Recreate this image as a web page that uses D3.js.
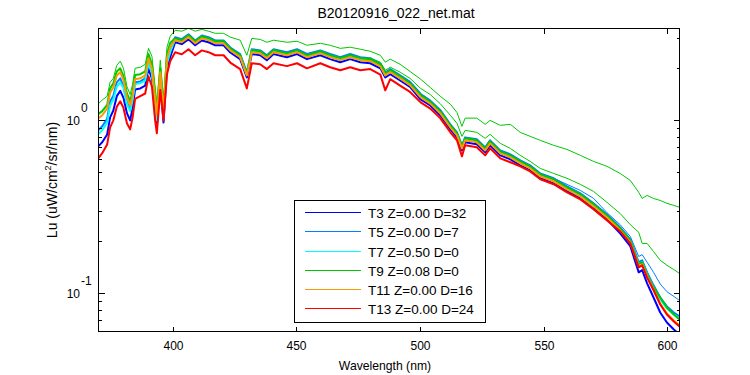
<!DOCTYPE html>
<html>
<head>
<meta charset="utf-8">
<script src="https://cdn.jsdelivr.net/npm/d3@7"></script>
<style>
	body { margin: 0; background: #fff; }
	text { font-family: "Liberation Sans", Arial, sans-serif; fill: #000; }
</style>
</head>
<body>
<svg id="svg_chart" width="750" height="375"></svg>
<script>
// wavelength grid (nm)
var wavelengths = [370, 371.5, 373.5, 374.7, 376, 377.4, 378.8, 380.1, 381.5, 382.8,
	383.8, 384.8, 386.9, 388.9, 390.2, 391.6, 392.9, 393.6, 395, 396.3,
	397.7, 399, 401, 403.7, 406.4, 409.1, 411.8, 414.5, 417.2, 420.6,
	423.3, 427.3, 430, 432, 435.4, 438.1, 440.8, 446.2, 450.3, 454.3,
	459.7, 463.7, 467.8, 471.8, 475.9, 479.9, 484, 486, 488, 492,
	496, 500.3, 504.2, 508.2, 512.3, 515, 517, 518.3, 523, 526.4,
	528.4, 532.5, 536.6, 540.6, 544.6, 548.7, 554.1, 559.5, 564.9, 570.2,
	575.7, 581, 585.1, 588.5, 589.9, 591.9, 594.5, 597.2, 599.9, 602.7,
	605];

// Lu (uW/cm2/sr/nm) per cast
var lu_T3 = [0.710, 0.747, 0.828, 1.04, 1.14, 1.38, 1.48, 1.35, 1.10, 0.999,
	1.18, 1.51, 1.53, 1.59, 2.00, 1.75, 1.17, 0.936, 1.66, 0.971,
	2.00, 2.32, 2.83, 2.76, 2.95, 2.72, 2.90, 2.83, 2.72, 2.72,
	2.47, 2.26, 1.77, 2.42, 2.38, 2.23, 2.42, 2.32, 2.42, 2.26,
	2.38, 2.26, 2.17, 2.26, 2.17, 2.14, 2.00, 1.77, 1.85, 1.70,
	1.56, 1.32, 1.22, 1.07, 0.887, 0.798, 0.670, 0.746, 0.727, 0.653,
	0.717, 0.627, 0.595, 0.549, 0.513, 0.462, 0.432, 0.389, 0.354, 0.310,
	0.267, 0.222, 0.187, 0.132, 0.136, 0.114, 0.0944, 0.0773, 0.0677, 0.0616,
	0.0577];
var lu_T5 = [0.878, 0.924, 1.02, 1.29, 1.39, 1.66, 1.75, 1.58, 1.27, 1.16,
	1.35, 1.66, 1.68, 1.75, 2.20, 1.92, 1.29, 1.03, 1.83, 1.07,
	2.20, 2.55, 3.03, 2.95, 3.15, 2.90, 3.10, 3.03, 2.90, 2.90,
	2.64, 2.42, 1.89, 2.58, 2.54, 2.38, 2.58, 2.48, 2.58, 2.42,
	2.54, 2.42, 2.32, 2.42, 2.32, 2.29, 2.13, 1.89, 1.98, 1.82,
	1.67, 1.42, 1.30, 1.15, 0.948, 0.853, 0.716, 0.797, 0.777, 0.697,
	0.766, 0.670, 0.636, 0.587, 0.549, 0.493, 0.462, 0.415, 0.378, 0.331,
	0.285, 0.240, 0.205, 0.151, 0.155, 0.132, 0.111, 0.0944, 0.0838, 0.0773,
	0.0733];
var lu_T5_upper = [].concat(Array(66).fill(null), [0.462, 0.426, 0.393, 0.354,
	0.292, 0.249, 0.213, 0.163, 0.167, 0.151, 0.132, 0.113, 0.102, 0.0957,
	0.0908]);
var lu_T7 = [0.832, 0.876, 0.971, 1.22, 1.32, 1.57, 1.66, 1.54, 1.24, 1.13,
	1.31, 1.62, 1.64, 1.70, 2.14, 1.87, 1.25, 1.00, 1.78, 1.04,
	2.14, 2.48, 2.95, 2.87, 3.07, 2.83, 3.02, 2.95, 2.83, 2.83,
	2.57, 2.35, 1.84, 2.51, 2.47, 2.32, 2.51, 2.41, 2.51, 2.35,
	2.47, 2.35, 2.26, 2.35, 2.26, 2.23, 2.08, 1.84, 1.92, 1.77,
	1.62, 1.38, 1.27, 1.11, 0.923, 0.830, 0.697, 0.776, 0.756, 0.679,
	0.746, 0.652, 0.619, 0.571, 0.534, 0.480, 0.450, 0.404, 0.368, 0.322,
	0.278, 0.234, 0.200, 0.147, 0.151, 0.128, 0.108, 0.0920, 0.0816, 0.0753,
	0.0714];
var lu_T9 = [1.09, 1.13, 1.23, 1.53, 1.64, 1.92, 2.00, 1.80, 1.43, 1.29,
	1.48, 1.83, 1.85, 1.92, 2.42, 2.11, 1.41, 1.13, 2.00, 1.17,
	2.42, 2.80, 2.99, 2.91, 3.11, 2.87, 3.06, 2.99, 2.87, 2.87,
	2.61, 2.38, 1.87, 2.55, 2.51, 2.35, 2.55, 2.44, 2.55, 2.38,
	2.51, 2.38, 2.29, 2.38, 2.29, 2.26, 2.11, 1.87, 1.95, 1.80,
	1.64, 1.40, 1.28, 1.13, 0.936, 0.841, 0.707, 0.787, 0.766, 0.688,
	0.756, 0.661, 0.627, 0.579, 0.541, 0.487, 0.456, 0.410, 0.373, 0.327,
	0.281, 0.237, 0.202, 0.147, 0.151, 0.128, 0.108, 0.0944, 0.0826, 0.0753,
	0.0704];
var lu_T9_upper = [1.25, 1.31, 1.38, 1.66, 1.75, 2.08, 2.20, 2.00, 1.57, 1.41,
	1.62, 2.00, 2.03, 2.11, 2.61, 2.35, 1.57, 1.25, 2.23, 1.31,
	2.65, 3.07, 3.32, 3.28, 3.41, 3.28, 3.36, 3.28, 3.19, 3.19,
	3.03, 2.91, 2.38, 2.98, 2.94, 2.83, 2.91, 2.83, 2.87, 2.72,
	2.79, 2.72, 2.61, 2.65, 2.58, 2.51, 2.38, 2.17, 2.26, 2.11,
	1.92, 1.73, 1.55, 1.38, 1.24, 1.11, 0.923, 1.03, 1.03, 0.948,
	1.00, 0.936, 0.948, 0.852, 0.808, 0.766, 0.717, 0.679, 0.627, 0.579,
	0.542, 0.493, 0.449, 0.383, 0.353, 0.368, 0.353, 0.344, 0.331, 0.322,
	0.314];
var lu_T9_mid = [].concat(Array(44).fill(null), [2.29, 2.29, 2.17, 1.95, 2.03, 1.90,
	1.75, 1.53, 1.41, 1.25, 1.07, 0.961, 0.808, 0.875, 0.852, 0.787,
	0.830, 0.736, 0.688, 0.627, 0.579, 0.527, 0.493, 0.462, 0.426, 0.388,
	0.335, 0.289, 0.249, 0.225, 0.194, 0.194, 0.174, 0.155, 0.145, 0.137,
	0.130]);
var lu_T11 = [1.03, 1.07, 1.17, 1.45, 1.55, 1.82, 1.90, 1.71, 1.36, 1.22,
	1.40, 1.73, 1.75, 1.82, 2.29, 2.00, 1.34, 1.07, 1.90, 1.11,
	2.29, 2.65, 2.91, 2.83, 3.03, 2.79, 2.98, 2.91, 2.79, 2.79,
	2.54, 2.32, 1.82, 2.48, 2.44, 2.29, 2.48, 2.38, 2.48, 2.32,
	2.44, 2.32, 2.23, 2.32, 2.23, 2.20, 2.05, 1.82, 1.90, 1.75,
	1.60, 1.36, 1.25, 1.10, 0.911, 0.819, 0.688, 0.766, 0.746, 0.670,
	0.736, 0.644, 0.611, 0.564, 0.527, 0.474, 0.444, 0.399, 0.363, 0.318,
	0.274, 0.231, 0.197, 0.143, 0.147, 0.125, 0.105, 0.0872, 0.0763, 0.0695,
	0.0650];
var lu_T13 = [0.605, 0.646, 0.725, 0.911, 1.00, 1.20, 1.29, 1.18, 0.963, 0.887,
	1.04, 1.33, 1.38, 1.43, 1.80, 1.57, 1.00, 0.842, 1.50, 0.998,
	1.85, 2.20, 2.48, 2.41, 2.58, 2.38, 2.54, 2.48, 2.38, 2.38,
	2.16, 1.98, 1.53, 2.14, 2.11, 1.98, 2.14, 2.06, 2.14, 2.00,
	2.14, 2.03, 1.95, 2.03, 1.95, 1.98, 1.84, 1.49, 1.73, 1.59,
	1.46, 1.27, 1.17, 1.03, 0.853, 0.767, 0.619, 0.717, 0.698, 0.627,
	0.689, 0.603, 0.572, 0.542, 0.506, 0.456, 0.427, 0.383, 0.349, 0.306,
	0.263, 0.228, 0.194, 0.141, 0.145, 0.123, 0.104, 0.0861, 0.0753, 0.0686,
	0.0642];

var seriesNames = ["T3 Z=0.00 D=32", "T5 Z=0.00 D=7", "T7 Z=0.50 D=0",
	"T9 Z=0.08 D=0", "T11 Z=0.00 D=16", "T13 Z=0.00 D=24"];
var seriesColors = ["#0000ff", "#0080ff", "#00ffff", "#00c800", "#ff9900", "#ff0000"];

var xTicks = [400, 450, 500, 550, 600];
var yMajor = [0.1, 1];
var yMinor = [0.07, 0.08, 0.09, 0.2, 0.3, 0.4, 0.5, 0.6, 0.7, 0.8, 0.9, 2, 3];

var svg = d3.select("#svg_chart"),
	box = { left: 98.5, right: 679.5, top: 28.5, bottom: 331.5 };

var x = d3.scaleLinear().domain([370, 605]).range([box.left, box.right]);
var y = d3.scaleLog().domain([0.06, 3.4]).range([box.bottom, box.top]);

svg.append("rect").attr("width", 750).attr("height", 375).attr("fill", "#fff");

svg.append("clipPath").attr("id", "plot_clip")
	.append("rect")
	.attr("x", box.left).attr("y", box.top)
	.attr("width", box.right - box.left).attr("height", box.bottom - box.top);

// lines: main series + thinner extra scans, in plotting order
var lines = [
	{ values: lu_T3, color: seriesColors[0], width: 2 },
	{ values: lu_T5, color: seriesColors[1], width: 2 },
	{ values: lu_T5_upper, color: seriesColors[1], width: 1 },
	{ values: lu_T7, color: seriesColors[2], width: 2 },
	{ values: lu_T9, color: seriesColors[3], width: 2 },
	{ values: lu_T9_mid, color: seriesColors[3], width: 1 },
	{ values: lu_T9_upper, color: seriesColors[3], width: 1 },
	{ values: lu_T11, color: seriesColors[4], width: 2 },
	{ values: lu_T13, color: seriesColors[5], width: 2 }
];

var line = d3.line()
	.defined(function(d) { return d[1] != null; })
	.x(function(d) { return x(d[0]); })
	.y(function(d) { return y(d[1]); });

var g_line = svg.append("g").attr("clip-path", "url(#plot_clip)");
for (var i = 0; i < lines.length; ++i) {
	var pts = wavelengths.map(function(w, k) { return [w, lines[i].values[k]]; });
	g_line.append("path")
		.attr("d", line(pts))
		.attr("fill", "none")
		.attr("stroke", lines[i].color)
		.attr("stroke-width", lines[i].width)
		.attr("stroke-linejoin", "round");
}

// axes box
var g_axis = svg.append("g").attr("shape-rendering", "crispEdges")
	.attr("stroke", "#000").attr("stroke-width", 1);
g_axis.append("rect")
	.attr("x", box.left).attr("y", box.top)
	.attr("width", box.right - box.left).attr("height", box.bottom - box.top)
	.attr("fill", "none");

// x ticks, inward on bottom and top
xTicks.forEach(function(t) {
	var px = Math.round(x(t)) + 0.5;
	g_axis.append("line").attr("x1", px).attr("x2", px).attr("y1", box.bottom).attr("y2", box.bottom - 5);
	g_axis.append("line").attr("x1", px).attr("x2", px).attr("y1", box.top).attr("y2", box.top + 5);
	svg.append("text").attr("x", px).attr("y", 350)
		.attr("text-anchor", "middle").attr("font-size", "12px").text(t);
});

// y ticks, inward on left and right
yMajor.concat(yMinor).forEach(function(t) {
	var py = Math.round(y(t)) + 0.5,
		len = yMajor.indexOf(t) >= 0 ? 6 : 3;
	g_axis.append("line").attr("x1", box.left).attr("x2", box.left + len).attr("y1", py).attr("y2", py);
	g_axis.append("line").attr("x1", box.right).attr("x2", box.right - len).attr("y1", py).attr("y2", py);
});
yMajor.forEach(function(t) {
	var py = y(t);
	svg.append("text").attr("x", 80).attr("y", py + 4.5)
		.attr("text-anchor", "end").attr("font-size", "12px").text("10");
	svg.append("text").attr("x", 81).attr("y", py - 8.5)
		.attr("font-size", "12px").text(Math.round(Math.log10(t)));
});

// titles
svg.append("text").attr("x", 396).attr("y", 17.5)
	.attr("text-anchor", "middle").attr("font-size", "14px").text("B20120916_022_net.mat");
svg.append("text").attr("x", 385).attr("y", 370)
	.attr("text-anchor", "middle").attr("font-size", "12.2px").text("Wavelength (nm)");
var ylab = svg.append("text")
	.attr("transform", "translate(57,180) rotate(-90)")
	.attr("text-anchor", "middle").attr("font-size", "14px");
ylab.append("tspan").text("Lu (uW/cm");
ylab.append("tspan").attr("font-size", "9px").attr("dy", -6).text("2");
ylab.append("tspan").attr("dy", 6).text("/sr/nm)");

// legend
var legend = svg.append("g");
legend.append("rect")
	.attr("x", 294.5).attr("y", 200.5).attr("width", 191).attr("height", 122)
	.attr("fill", "#fff").attr("stroke", "#000").attr("shape-rendering", "crispEdges");
var row = legend.selectAll("g.row").data(seriesNames).enter().append("g")
	.attr("transform", function(d, k) { return "translate(0," + (Math.floor(212.7 + k * 19.2) + 0.5) + ")"; });
row.append("line")
	.attr("x1", 305).attr("x2", 361).attr("y1", 0).attr("y2", 0)
	.attr("stroke", function(d, k) { return seriesColors[k]; })
	.attr("stroke-width", 1)
	.attr("shape-rendering", "crispEdges");
row.append("text").attr("x", 368).attr("y", 5)
	.attr("font-size", "13.5px").text(function(d) { return d; });
</script>
</body>
</html>
